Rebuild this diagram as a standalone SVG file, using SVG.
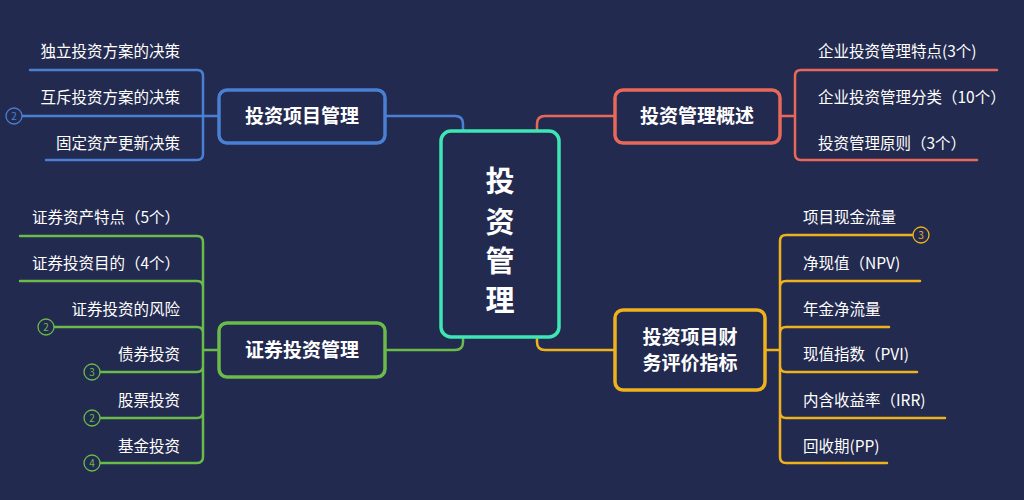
<svg xmlns="http://www.w3.org/2000/svg" width="1024" height="500" viewBox="0 0 1024 500">
<style>
text{font-family:"Noto Sans CJK SC","Noto Sans",sans-serif;fill:#fff}
.l{font-size:15.5px}
.r{text-anchor:end}
.b{font-weight:bold;font-size:19px;text-anchor:middle}
.v{font-weight:bold;font-size:29px;text-anchor:middle}
.c{fill:none;stroke-width:2.5;stroke-linecap:round}
.bl{stroke:#4a80d4}.gr{stroke:#6abb4a}.or{stroke:#e8695a}.ye{stroke:#f0b21c}
.box{fill:#232a4f;stroke-width:3.5}
.n{font-size:10px;text-anchor:middle}
.ci{fill:#232a4f;stroke-width:1.3}
</style>
<rect width="1024" height="500" fill="#232a4f"/>
<g id="connectors">
<path class="c bl" d="M385 116H455Q463 116 463 124V131"/>
<path class="c bl" d="M219 116H22M30 70H197Q203 70 203 76V154Q203 160 197 160H46"/>
<path class="c or" d="M615 116H545Q537 116 537 124V131"/>
<path class="c or" d="M780 116H795M997 70H801Q795 70 795 76V154Q795 160 801 160H977"/>
<path class="c gr" d="M385 350H455Q463 350 463 342V337"/>
<path class="c gr" d="M219 350H203M20 236H197Q203 236 203 242V457Q203 463 197 463H100M20 281H197Q203 281 203 287M54 327H197Q203 327 203 333M100 372H197Q203 372 203 366M100 418H197Q203 418 203 412"/>
<path class="c ye" d="M615 350H545Q537 350 537 342V337"/>
<path class="c ye" d="M765 350H780M913 235H786Q780 235 780 241V457Q780 463 786 463H887M920 281H786Q780 281 780 287M889 327H786Q780 327 780 333M917 372H786Q780 372 780 366M945 418H786Q780 418 780 412"/>
</g>
<g id="center">
<rect x="441" y="131" width="118" height="206" rx="10" class="box" stroke="#3de6b4" stroke-width="5"/>
<text x="500" y="192" class="v">投</text>
<text x="500" y="233" class="v">资</text>
<text x="500" y="272" class="v">管</text>
<text x="500" y="311" class="v">理</text>
</g>
<g id="n-blue">
<rect x="219" y="90" width="166" height="53" rx="8" class="box bl"/>
<text x="302" y="123" class="b">投资项目管理</text>
<text x="180" y="57" class="l r">独立投资方案的决策</text>
<text x="180" y="103" class="l r">互斥投资方案的决策</text>
<text x="180" y="149" class="l r">固定资产更新决策</text>
<circle cx="14" cy="116" r="8" class="ci bl"/><text x="14" y="119.5" class="n" style="fill:#4a80d4">2</text>
</g>
<g id="n-orange">
<rect x="615" y="90" width="165" height="53" rx="8" class="box or"/>
<text x="697" y="123" class="b">投资管理概述</text>
<text x="818" y="57" class="l">企业投资管理特点(3个)</text>
<text x="818" y="103" class="l">企业投资管理分类（10个）</text>
<text x="818" y="149" class="l">投资管理原则（3个）</text>
</g>
<g id="n-green">
<rect x="219" y="323" width="166" height="54" rx="8" class="box gr"/>
<text x="302" y="357" class="b">证券投资管理</text>
<text x="180" y="223" class="l r">证券资产特点（5个）</text>
<text x="180" y="269" class="l r">证券投资目的（4个）</text>
<text x="180" y="315" class="l r">证券投资的风险</text>
<text x="180" y="360" class="l r">债券投资</text>
<text x="180" y="406" class="l r">股票投资</text>
<text x="180" y="452" class="l r">基金投资</text>
<circle cx="46" cy="327" r="8" class="ci gr"/><text x="46" y="330.5" class="n" style="fill:#6abb4a">2</text>
<circle cx="92" cy="372" r="8" class="ci gr"/><text x="92" y="375.5" class="n" style="fill:#6abb4a">3</text>
<circle cx="92" cy="418" r="8" class="ci gr"/><text x="92" y="421.5" class="n" style="fill:#6abb4a">2</text>
<circle cx="92" cy="463" r="8" class="ci gr"/><text x="92" y="466.5" class="n" style="fill:#6abb4a">4</text>
</g>
<g id="n-yellow">
<rect x="615" y="310" width="150" height="80" rx="8" class="box ye"/>
<text x="690" y="344" class="b">投资项目财</text>
<text x="690" y="370" class="b">务评价指标</text>
<text x="803" y="223" class="l">项目现金流量</text>
<text x="803" y="269" class="l">净现值（NPV)</text>
<text x="803" y="315" class="l">年金净流量</text>
<text x="803" y="360" class="l">现值指数（PVI)</text>
<text x="803" y="406" class="l">内含收益率（IRR)</text>
<text x="803" y="452" class="l">回收期(PP)</text>
<circle cx="921" cy="235" r="8" class="ci ye"/><text x="921" y="238.5" class="n" style="fill:#f0b21c">3</text>
</g>
</svg>
